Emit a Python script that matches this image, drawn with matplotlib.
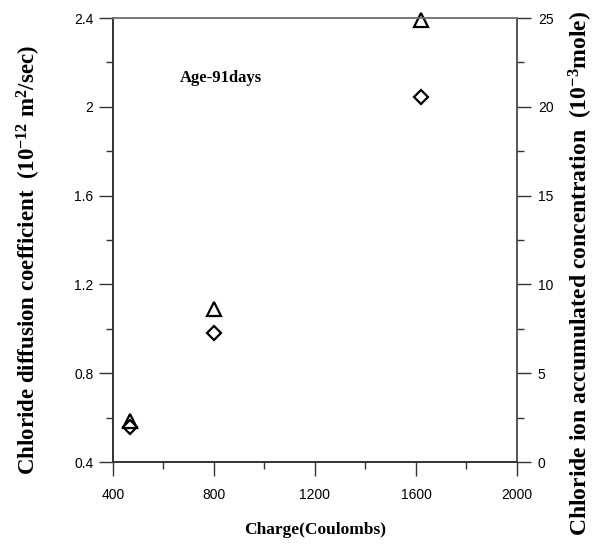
import matplotlib.pyplot as plt
from matplotlib.ticker import MultipleLocator

# data
charge = [467, 800, 1620]
diffusion = [0.556, 0.981, 2.044]        # diamonds, left axis (10^-12 m2/sec)
concentration = [2.3, 8.6, 24.9]         # triangles, right axis (10^-3 mole)

serif = ['Liberation Serif', 'DejaVu Serif']
sans = ['Liberation Sans', 'DejaVu Sans']

plt.rcParams['font.family'] = sans
plt.rcParams['mathtext.fontset'] = 'custom'
plt.rcParams['mathtext.rm'] = 'Liberation Serif:bold'
plt.rcParams['mathtext.it'] = 'Liberation Serif:bold'
plt.rcParams['mathtext.bf'] = 'Liberation Serif:bold'

fig = plt.figure(figsize=(6.1, 5.46), dpi=100)
ax = fig.add_axes([0.1852, 0.1538, 0.6623, 0.8132])
ax2 = ax.twinx()

ax.plot(charge, diffusion, linestyle='none', marker='D', ms=7.5,
        mfc='none', mec='black', mew=1.6, clip_on=False)
ax2.plot(charge, concentration, linestyle='none', marker='^', ms=9.5,
         mfc='none', mec='black', mew=1.6, clip_on=False)

ax.set_xlim(400, 2000)
ax.set_ylim(0.4, 2.4)
ax2.set_ylim(0, 25)

ax.xaxis.set_major_locator(MultipleLocator(400))
ax.xaxis.set_minor_locator(MultipleLocator(200))
ax.yaxis.set_major_locator(MultipleLocator(0.4))
ax.yaxis.set_minor_locator(MultipleLocator(0.2))
ax2.yaxis.set_major_locator(MultipleLocator(5))
ax2.yaxis.set_minor_locator(MultipleLocator(2.5))
ax.set_yticks([0.4, 0.8, 1.2, 1.6, 2.0, 2.4])
ax.set_yticklabels(['0.4', '0.8', '1.2', '1.6', '2', '2.4'])

for a in (ax, ax2):
    a.tick_params(which='major', direction='out', length=10, width=1.0,
                  color='#333333', labelsize=10, pad=4)
    a.tick_params(which='minor', direction='out', length=5, width=1.0,
                  color='#333333')
    for s in a.spines.values():
        s.set_linewidth(1.2)
        s.set_color('#333333')
    a.spines['top'].set_color('#777777')
    a.spines['right'].set_color('#555555')
ax.tick_params(axis='x', which='major', pad=9)
ax2.tick_params(axis='y', which='major', pad=5)

ax.set_xlabel('Charge(Coulombs)', fontfamily=serif, fontweight='bold',
              fontsize=12.5, labelpad=14)
ax.set_ylabel(r'Chloride diffusion coefficient  (10$^{-12}$ m$^{2}$/sec)',
              fontfamily=serif, fontweight='bold', fontsize=16.5, va='center')
ax2.set_ylabel(r'Chloride ion accumulated concentration  (10$^{-3}$mole)',
               fontfamily=serif, fontweight='bold', fontsize=17,
               rotation=90, va='center')
ax.yaxis.set_label_coords(-0.208, 0.455)
ax2.yaxis.set_label_coords(1.158, 0.426)

ax.text(0.165, 0.855, 'Age-91days', transform=ax.transAxes,
        fontfamily=serif, fontweight='bold', fontsize=12)

fig.savefig('out.png', dpi=100)
